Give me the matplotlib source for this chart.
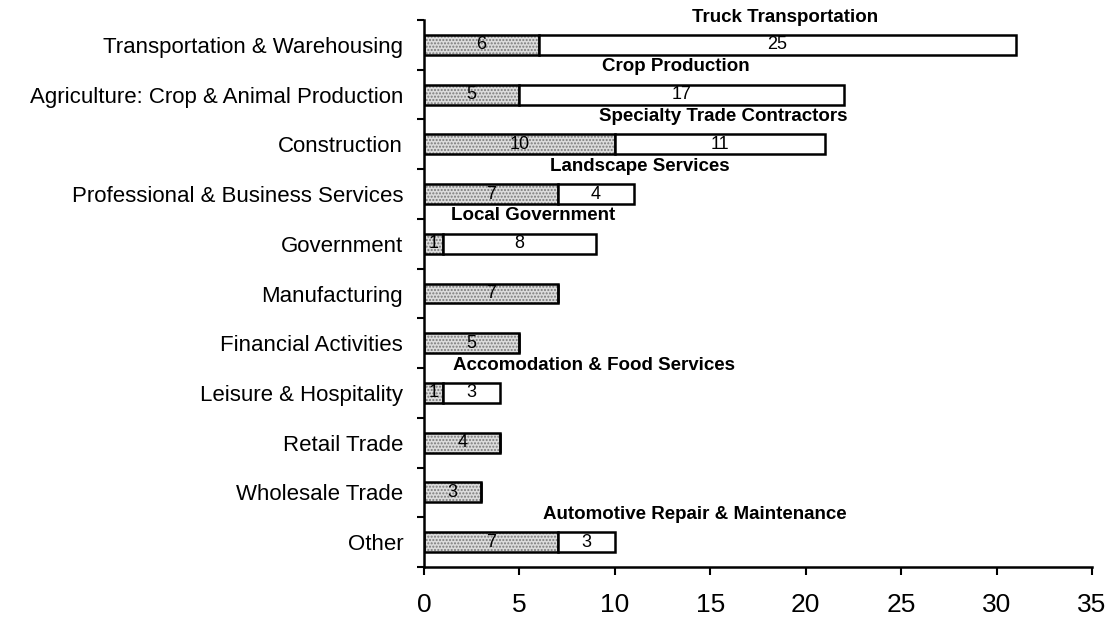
import numpy as np
import matplotlib.pyplot as plt

plt.rcParams['font.family'] = ['Liberation Sans', 'DejaVu Sans']
plt.rcParams['hatch.linewidth'] = 1.0

# data (top to bottom)
categories = ['Transportation & Warehousing', 'Agriculture: Crop & Animal Production',
              'Construction', 'Professional & Business Services', 'Government',
              'Manufacturing', 'Financial Activities', 'Leisure & Hospitality',
              'Retail Trade', 'Wholesale Trade', 'Other']
industry_total = [6, 5, 10, 7, 1, 7, 5, 1, 4, 3, 7]
top_sub = [25, 17, 11, 4, 8, 0, 0, 3, 0, 0, 3]
sub_names = ['Truck Transportation', 'Crop Production', 'Specialty Trade Contractors',
             'Landscape Services', 'Local Government', '', '',
             'Accomodation & Food Services', '', '', 'Automotive Repair & Maintenance']
# where the sub-industry names sit (centre, in x units)
sub_label_x = [18.9, 13.2, 15.7, 11.3, 5.7, None, None, 8.9, None, None, 14.2]

y = np.arange(len(categories))
h = 0.4

fig = plt.figure(figsize=(11.06, 6.18), dpi=100)
ax = fig.add_axes([0.3834, 0.0825, 0.6039, 0.8851])

# stippled grey part (hatch drawn in grey, then a black outline on top)
ax.barh(y, industry_total, height=h, color='#dcdcdc', hatch='.....',
        edgecolor='#7a7a7a', linewidth=0)
ax.barh(y, industry_total, height=h, color='none', edgecolor='black', linewidth=1.8)
ax.barh(y, top_sub, left=industry_total, height=h, color='white',
        edgecolor='black', linewidth=1.8)

for i in range(len(categories)):
    ax.text(industry_total[i] / 2, y[i], str(industry_total[i]), ha='center',
            va='center', fontsize=13, color='black')
    if top_sub[i] > 0:
        ax.text(industry_total[i] + top_sub[i] / 2, y[i], str(top_sub[i]),
                ha='center', va='center', fontsize=13, color='black')
    if sub_names[i]:
        ax.text(sub_label_x[i], y[i] - 0.56, sub_names[i], ha='center',
                va='center', fontsize=13.5, fontweight='bold')

ax.set_xlim(0, 35)
ax.set_ylim(len(categories) - 0.5, -0.5)
ax.set_xticks(range(0, 36, 5))
ax.set_yticks(y)
ax.set_yticklabels(categories, fontsize=16)
ax.set_yticks(np.arange(-0.5, len(categories), 1), minor=True)
ax.tick_params(axis='y', which='major', length=0, pad=15)
ax.tick_params(axis='y', which='minor', length=5, width=1.5, direction='out')
ax.tick_params(axis='x', labelsize=19, length=6, width=1.5, direction='out', pad=13)

for s in ['top', 'right']:
    ax.spines[s].set_visible(False)
for s in ['left', 'bottom']:
    ax.spines[s].set_linewidth(1.8)

fig.savefig('out.png', dpi=100)
